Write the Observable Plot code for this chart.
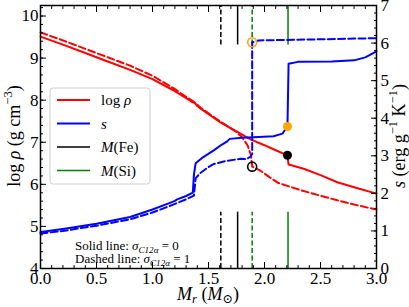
<!DOCTYPE html>
<html><head><meta charset="utf-8">
<script src="https://cdn.jsdelivr.net/npm/d3@7"></script>
<script src="https://cdn.jsdelivr.net/npm/@observablehq/plot@0.6"></script>
<style>
body{margin:0;background:#fff;}
svg{font-family:"Liberation Serif","DejaVu Serif",serif;}
</style></head><body><div id="chart"></div>
<script>
// ---- data ----
// log rho (left axis), [Mr, log rho]
const logRhoSolid = [[0.00,9.51],[0.20,9.32],[0.40,9.12],[0.60,8.92],[0.80,8.72],[1.00,8.50],[1.19,8.23],[1.30,8.05],[1.36,7.95],[1.38,7.93],[1.40,7.86],[1.43,7.80],[1.607,7.47],[1.75,7.26],[1.875,7.07],[2.00,6.93],[2.10,6.81],[2.205,6.69],[2.215,6.47],[2.35,6.37],[2.50,6.22],[2.65,6.05],[2.80,5.93],[3.00,5.78]];
const logRhoDashed = [[0.00,9.61],[0.20,9.42],[0.40,9.22],[0.60,9.02],[0.80,8.82],[1.00,8.58],[1.19,8.28],[1.30,8.08],[1.37,7.96],[1.40,7.89],[1.43,7.82],[1.607,7.49],[1.75,7.24],[1.80,7.12],[1.85,6.92],[1.88,6.68],[1.89,6.42],[1.96,6.33],[2.05,6.16],[2.125,6.03],[2.35,5.84],[2.50,5.73],[2.65,5.62],[2.80,5.52],[3.00,5.40]];
// entropy s (right axis), [Mr, s]
const sSolid = [[0.00,0.97],[0.20,1.05],[0.50,1.19],[0.80,1.37],[1.00,1.57],[1.15,1.74],[1.20,1.80],[1.22,1.84],[1.30,1.93],[1.36,2.02],[1.37,2.50],[1.385,2.80],[1.45,2.96],[1.55,3.15],[1.62,3.30],[1.66,3.37],[1.69,3.45],[1.80,3.48],[1.95,3.50],[2.08,3.52],[2.16,3.59],[2.205,3.78],[2.215,5.45],[2.30,5.50],[2.60,5.51],[2.80,5.54],[2.90,5.62],[3.00,5.78]];
const sDashed = [[0.00,0.93],[0.20,1.00],[0.50,1.14],[0.80,1.31],[1.00,1.49],[1.15,1.66],[1.20,1.72],[1.30,1.84],[1.37,1.94],[1.385,2.40],[1.43,2.55],[1.50,2.70],[1.545,2.78],[1.65,2.86],[1.786,2.92],[1.84,2.91],[1.875,2.98],[1.89,3.05],[1.89,6.02],[1.95,6.07],[2.50,6.10],[3.00,6.13]];
// markers
const sMarkOpen = [[1.89,6.02]];
const sMarkFilled = [[2.205,3.78]];
const rhoMarkOpen = [[1.89,6.42]];
const rhoMarkFilled = [[2.205,6.69]];
// M(Fe), M(Si) mass coordinates
const mFe = [{m:1.61, dash:true},{m:1.76, dash:false}];
const mSi = [{m:1.89, dash:true},{m:2.21, dash:false}];
const segTopS = [5.95, 7];   // in s units
const segBotS = [0, 1.5];
// ticks
const xMajor = [0,0.5,1,1.5,2,2.5,3];
const xMinor = d3.range(0,3.0001,0.1);
const rhoMajor = [4,5,6,7,8,9,10];
const rhoMinor = d3.range(4,10.25,0.2);
const sMajor = [0,1,2,3,4,5,6,7];
const sMinor = d3.range(0,7.0001,0.2);

const RHO0 = 4, RHO1 = 10.25, SMAX = 7;
const sToRho = s => RHO0 + s*(RHO1-RHO0)/SMAX;
const rhoToS = r => (r-RHO0)*SMAX/(RHO1-RHO0);

const FS = 17;
const fmt1 = d3.format(".1f");
const lineOf = (data, conv, opts) => Plot.line(data, {x: d=>d[0], y: d=>conv(d[1]), ...opts});
const idt = v => v;

const vLines = [];
for (const [arr, col] of [[mFe,"black"],[mSi,"green"]]) {
  for (const seg of [segTopS, segBotS]) {
    vLines.push(Plot.ruleX(arr, {x:"m", y1: sToRho(seg[0]), y2: sToRho(seg[1]), stroke: col, strokeWidth: 1.5,
      filter: d=>!d.dash}));
    vLines.push(Plot.ruleX(arr, {x:"m", y1: sToRho(seg[0]), y2: sToRho(seg[1]), stroke: col, strokeWidth: 1.5,
      strokeDasharray: "5,2.5", filter: d=>d.dash}));
  }
}

const chart = Plot.plot({
  width: 409, height: 307,
  marginLeft: 40, marginRight: 33, marginTop: 5, marginBottom: 39,
  x: {domain: [0,3]},
  y: {domain: [RHO0, RHO1]},
  style: {fontFamily: "'Liberation Serif','DejaVu Serif',serif", background: "white", color: "black"},
  marks: [
    ...vLines,
    lineOf(logRhoDashed, idt, {stroke:"#ff0000", strokeWidth:2, strokeDasharray:"7,3.2"}),
    lineOf(logRhoSolid, idt, {stroke:"#ff0000", strokeWidth:2}),
    lineOf(sDashed, sToRho, {stroke:"#0000ff", strokeWidth:2, strokeDasharray:"7,3.2"}),
    lineOf(sSolid, sToRho, {stroke:"#0000ff", strokeWidth:2}),
    Plot.dot(sMarkOpen, {x:d=>d[0], y:d=>sToRho(d[1]), r:4.5, stroke:"orange", strokeWidth:1.6, fill:"none"}),
    Plot.dot(sMarkFilled, {x:d=>d[0], y:d=>sToRho(d[1]), r:4.5, fill:"orange", stroke:"none"}),
    Plot.dot(rhoMarkOpen, {x:d=>d[0], y:d=>d[1], r:4.5, stroke:"black", strokeWidth:1.6, fill:"none"}),
    Plot.dot(rhoMarkFilled, {x:d=>d[0], y:d=>d[1], r:4.5, fill:"black", stroke:"none"}),
    // axes with inward ticks
    Plot.axisX(xMajor, {anchor:"bottom", tickSize:-6, tickPadding:9, tickFormat: fmt1, fontSize:FS, label:null}),
    Plot.axisX(xMinor, {anchor:"bottom", tickSize:-3, tickFormat: () => "", label:null}),
    Plot.axisX(xMajor, {anchor:"top", tickSize:-6, tickFormat: () => "", label:null}),
    Plot.axisX(xMinor, {anchor:"top", tickSize:-3, tickFormat: () => "", label:null}),
    Plot.axisY(rhoMajor, {anchor:"left", tickSize:-6, tickPadding:8, tickFormat: d=>String(d), fontSize:FS, label:null}),
    Plot.axisY(rhoMinor, {anchor:"left", tickSize:-3, tickFormat: () => "", label:null}),
    Plot.axisY(sMajor.map(sToRho), {anchor:"right", tickSize:-6, tickPadding:10, tickFormat: d=>String(Math.round(rhoToS(d))), fontSize:FS, label:null}),
    Plot.axisY(sMinor.map(sToRho), {anchor:"right", tickSize:-3, tickFormat: () => "", label:null}),
    Plot.frame({stroke:"black", strokeWidth:1.5})
  ]
});
document.getElementById("chart").append(chart);

// ---- rich text labels & legend ----
const svg = d3.select(chart);
function richText(x, y, parts, fs, opts = {}) {
  const t = svg.append("text").attr("x", x).attr("y", y).attr("font-size", fs)
    .attr("fill", "black").attr("text-anchor", opts.anchor || "start");
  if (opts.rotate) t.attr("transform", `rotate(${opts.rotate},${x},${y})`);
  let shift = 0;
  for (const p of parts) {
    const target = p.sub ? (opts.subShift || 0.28)*fs : p.sup ? -0.42*fs : 0;
    const ts = t.append("tspan").text(p.t);
    if (target !== shift) { ts.attr("dy", target - shift); shift = target; }
    if (p.it) ts.attr("font-style", "italic");
    if (p.sub || p.sup) ts.attr("font-size", fs*0.7);
  }
  return t;
}
// axis labels
richText(208, 300, [{t:"M",it:true},{t:"r",it:true,sub:true},{t:" ("},{t:"M",it:true},{t:"⊙",sub:true},{t:")"}], 18, {anchor:"middle", subShift:0.15});
richText(20, 136, [{t:"log "},{t:"ρ",it:true},{t:" (g cm"},{t:"−3",sup:true},{t:")"}], 18, {anchor:"middle", rotate:-90});
richText(405, 136, [{t:"s",it:true},{t:" (erg g"},{t:"−1",sup:true},{t:" K"},{t:"−1",sup:true},{t:")"}], 18, {anchor:"middle", rotate:-90});

// legend
const lg = svg.append("g");
lg.append("rect").attr("x",50).attr("y",88).attr("width",100).attr("height",96).attr("rx",3)
  .attr("fill","white").attr("fill-opacity",0.8).attr("stroke","#cccccc").attr("stroke-width",1);
const legendItems = [
  {color:"#ff0000", w:2, parts:[{t:"log "},{t:"ρ",it:true}]},
  {color:"#0000ff", w:2, parts:[{t:"s",it:true}]},
  {color:"black", w:1.5, parts:[{t:"M",it:true},{t:"(Fe)"}]},
  {color:"green", w:1.5, parts:[{t:"M",it:true},{t:"(Si)"}]}
];
legendItems.forEach((it, i) => {
  const y = 100 + i*23.5;
  lg.append("line").attr("x1",57).attr("x2",90).attr("y1",y).attr("y2",y)
    .attr("stroke",it.color).attr("stroke-width",it.w);
  richText(101, y+5, it.parts, 15);
});

// annotation
richText(75, 250, [{t:"Solid line: "},{t:"σ",it:true},{t:"C12α",it:true,sub:true},{t:" = 0"}], 13, {subShift:0.2});
richText(75, 263, [{t:"Dashed line: "},{t:"σ",it:true},{t:"C12α",it:true,sub:true},{t:" = 1"}], 13, {subShift:0.2});
</script></body></html>
